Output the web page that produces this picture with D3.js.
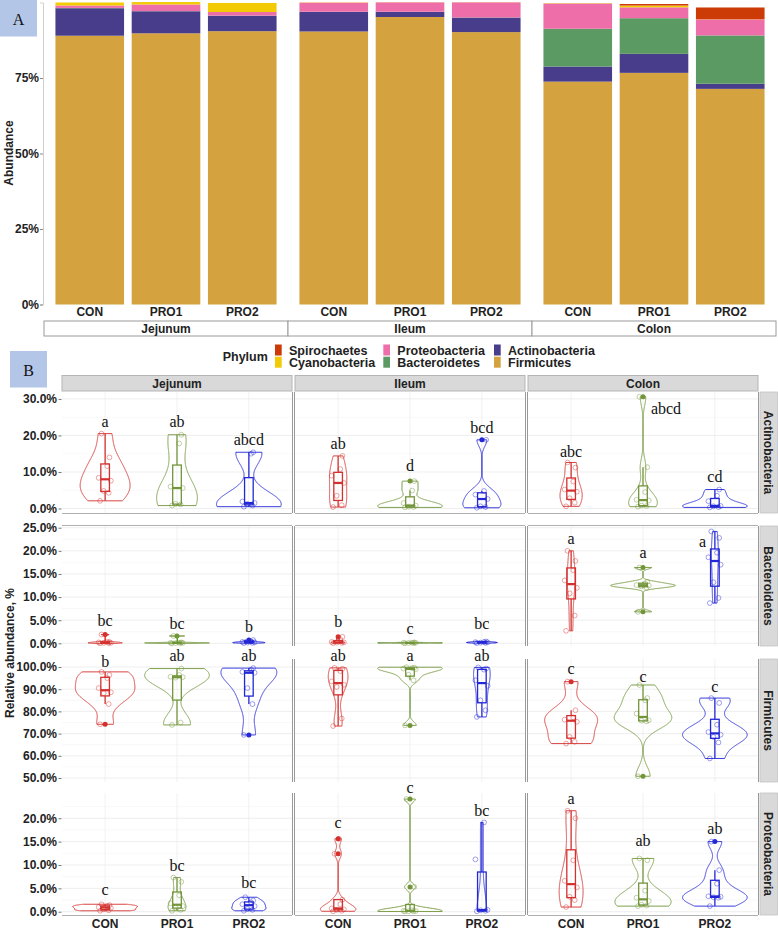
<!DOCTYPE html>
<html>
<head>
<meta charset="utf-8">
<script src="https://cdn.jsdelivr.net/npm/d3@7"></script>
<style>
  body { margin: 0; background: #fff; }
  svg { display: block; }
</style>
</head>
<body>
<div id="chart"></div>
<script>
// ---- categories ----
const regions = ['Jejunum', 'Ileum', 'Colon'];
const groups = ['CON', 'PRO1', 'PRO2'];
const legendPhyla = ['Spirochaetes', 'Cyanobacteria', 'Proteobacteria', 'Bacteroidetes', 'Actinobacteria', 'Firmicutes'];
const stackOrder = ['Firmicutes', 'Actinobacteria', 'Bacteroidetes', 'Proteobacteria', 'Cyanobacteria', 'Spirochaetes'];

// ---- panel A: mean abundance (%) per bar, order Jej CON/PRO1/PRO2, Ile ..., Col ... ----
const firmicutesMean     = [89.0, 89.8, 90.5, 90.4, 95.2, 90.2, 73.8, 76.7, 71.4];
const actinobacteriaMean = [9.1, 7.3, 5.1, 6.5, 1.7, 4.8, 5.0, 6.3, 1.7];
const bacteroidetesMean  = [0.1, 0.05, 0.05, 0.05, 0.05, 0.05, 12.5, 11.8, 16.0];
const proteobacteriaMean = [0.8, 2.2, 1.2, 3.0, 3.1, 5.0, 8.3, 3.6, 5.3];
const cyanobacteriaMean  = [1.0, 0.8, 3.0, 0.1, 0.05, 0.05, 0.1, 0.6, 0.05];
const spirochaetesMean   = [0, 0, 0, 0, 0, 0, 0.05, 0.5, 3.9];
const abundanceTicks = [0, 25, 50, 75];

// ---- panel B: per-sample relative abundance (%), [region][group] ----
const actinobacteriaSamples = [
  [[2.1, 4.3, 4.8, 7.6, 8.4, 11.6, 14.0, 20.5], [0.8, 1.1, 1.3, 5.6, 6.0, 17.8, 20.2], [0.5, 0.8, 1.2, 1.5, 1.9, 15.0, 15.4]],
  [[0.4, 0.9, 3.5, 7.0, 9.0, 10.8, 14.4], [0.3, 0.4, 0.5, 0.8, 1.5, 4.9, 7.5], [0.2, 0.4, 0.6, 2.6, 3.8, 4.8, 18.8]],
  [[0.6, 1.6, 2.8, 4.6, 5.2, 7.4, 11.2, 12.6], [0.5, 0.7, 0.8, 2.2, 2.4, 4.5, 11.3, 30.6], [0.3, 0.4, 0.6, 0.7, 2.0, 3.5, 5.2]]
];
const bacteroidetesSamples = [
  [[0.0, 0.05, 0.1, 0.1, 0.2, 0.3, 0.3, 1.9], [0.0, 0.05, 0.05, 0.1, 0.1, 0.15, 0.2, 1.6], [0.05, 0.1, 0.15, 0.2, 0.3, 0.4, 0.7]],
  [[0.05, 0.1, 0.15, 0.2, 0.3, 0.9, 1.4], [0.02, 0.05, 0.08, 0.1, 0.12, 0.15, 0.2], [0.05, 0.1, 0.15, 0.2, 0.25, 0.3, 0.4]],
  [[2.7, 6.0, 10.8, 12.0, 13.6, 15.8, 17.8, 20.0], [6.8, 12.0, 12.3, 12.5, 12.6, 12.9, 13.3, 16.4], [8.7, 9.8, 13.2, 17.0, 18.6, 19.6, 22.8, 24.2]]
];
const firmicutesSamples = [
  [[74.2, 83.3, 88.2, 88.6, 90.5, 95.0, 96.4, 97.8], [73.9, 75.0, 95.2, 95.4, 95.6, 96.4, 99.3], [69.4, 83.3, 90.5, 97.4, 97.8, 98.8, 99.5]],
  [[73.4, 76.8, 91.0, 92.0, 93.5, 98.2, 99.2, 99.6], [73.7, 94.0, 96.5, 99.0, 99.3, 99.5, 99.7, 99.9], [77.5, 80.5, 85.0, 91.5, 94.0, 98.8, 99.3, 99.8]],
  [[65.5, 66.3, 68.5, 75.3, 76.3, 77.3, 80.5, 93.4], [50.8, 75.5, 75.8, 76.0, 79.0, 85.0, 86.0, 91.9], [58.8, 66.0, 68.5, 69.5, 70.7, 74.0, 83.8, 86.0]]
];
const proteobacteriaSamples = [
  [[0.2, 0.3, 0.5, 0.8, 1.0, 1.2, 1.4, 1.6], [0.2, 0.4, 0.9, 1.2, 1.8, 3.5, 6.4, 7.3], [0.2, 0.4, 0.6, 1.2, 1.6, 2.0, 2.4, 3.1]],
  [[0.1, 0.2, 0.4, 0.5, 0.7, 1.6, 2.6, 12.4, 15.6], [0.05, 0.1, 0.1, 0.15, 0.2, 0.3, 5.3, 24.1], [0.1, 0.2, 0.3, 0.4, 11.2, 19.1]],
  [[1.0, 2.5, 3.2, 5.2, 6.6, 11.0, 20.0, 21.6], [1.2, 1.3, 1.5, 2.3, 3.0, 4.5, 11.0, 11.4], [1.2, 3.0, 3.1, 3.2, 3.3, 6.0, 8.9, 15.0]]
];

// significance letters and the value (%) at which each sits
const actinobacteriaLetters = [['a', 'ab', 'abcd'], ['ab', 'd', 'bcd'], ['abc', 'abcd', 'cd']];
const actinobacteriaLetterAt = [[22.3, 22.3, 17.4], [16.2, 10.4, 20.6], [14.0, 25.9, 7.3]];
const bacteroidetesLetters = [['bc', 'bc', 'b'], ['b', 'c', 'bc'], ['a', 'a', 'a']];
const bacteroidetesLetterAt = [[3.7, 3.0, 2.5], [3.5, 2.0, 3.0], [21.5, 18.4, 20.8]];
const firmicutesLetters = [['b', 'ab', 'ab'], ['ab', 'a', 'ab'], ['c', 'c', 'c']];
const firmicutesLetterAt = [[100.1, 102.8, 102.8], [102.8, 102.8, 102.8], [96.8, 93.4, 88.9]];
const proteobacteriaLetters = [['c', 'bc', 'bc'], ['c', 'c', 'bc'], ['a', 'ab', 'ab']];
const proteobacteriaLetterAt = [[3.6, 8.8, 5.0], [17.9, 25.5, 20.5], [23.1, 14.1, 16.6]];

const rowNames = ['Actinobacteria', 'Bacteroidetes', 'Firmicutes', 'Proteobacteria'];
const rowSamples = [actinobacteriaSamples, bacteroidetesSamples, firmicutesSamples, proteobacteriaSamples];
const rowLetters = [actinobacteriaLetters, bacteroidetesLetters, firmicutesLetters, proteobacteriaLetters];
const rowLetterAt = [actinobacteriaLetterAt, bacteroidetesLetterAt, firmicutesLetterAt, proteobacteriaLetterAt];
const rowTicks = [[0, 10, 20, 30], [0, 5, 10, 15, 20, 25], [50, 60, 70, 80, 90, 100], [0, 5, 10, 15, 20]];
const rowDomains = [[-1.23, 31.9], [-0.58, 25.37], [48.2, 103.6], [-0.7, 25.4]];

// ---- styles / layout ----
const phylumColor = {
  Spirochaetes: '#cc3a06', Cyanobacteria: '#f2cb05', Proteobacteria: '#ee6ea9',
  Bacteroidetes: '#5b9a62', Actinobacteria: '#483d8b', Firmicutes: '#d4a33f'
};
const groupColor = ['#d4302e', '#72953a', '#2327d6'];
const sans = "'Liberation Sans', Arial, sans-serif";
const serif = "'Liberation Serif', 'Times New Roman', serif";
const jitterPattern = [-0.07, 0.05, -0.02, 0.08, -0.09, 0.03, 0.06, -0.05, 0.01, -0.04];
// labels nudged sideways in the original figure
const letterNudge = { 'Actinobacteria|Colon|PRO1': 0.32, 'Bacteroidetes|Colon|PRO2': -0.17 };

const svg = d3.select('#chart').append('svg')
  .attr('width', 778).attr('height', 932)
  .attr('font-family', sans);

// ================= Panel A =================
const aCols = [[44, 288], [288, 532], [532, 776]];
const yA = d3.scaleLinear().domain([0, 100]).range([304.5, 2.5]);

const means = {
  Firmicutes: firmicutesMean, Actinobacteria: actinobacteriaMean, Bacteroidetes: bacteroidetesMean,
  Proteobacteria: proteobacteriaMean, Cyanobacteria: cyanobacteriaMean, Spirochaetes: spirochaetesMean
};
const barRows = d3.range(9).map(i => {
  const row = { region: regions[Math.floor(i / 3)], group: groups[i % 3] };
  stackOrder.forEach(p => { row[p] = means[p][i]; });
  return row;
});
const series = d3.stack().keys(stackOrder)(barRows);

const gA = svg.append('g');
regions.forEach((region, ci) => {
  const x = d3.scalePoint().domain(groups).range(aCols[ci]).padding(0.6);
  const bw = x.step() * 0.9;
  series.forEach(s => {
    gA.append('g').attr('fill', phylumColor[s.key])
      .selectAll('rect')
      .data(s.filter(d => d.data.region === region))
      .join('rect')
      .attr('x', d => x(d.data.group) - bw / 2)
      .attr('width', bw)
      .attr('y', d => yA(d[1]))
      .attr('height', d => Math.max(0, yA(d[0]) - yA(d[1])));
  });
  gA.append('g').selectAll('text').data(groups).join('text')
    .attr('x', d => x(d)).attr('y', 316)
    .attr('text-anchor', 'middle').attr('font-size', 12).attr('font-weight', 'bold').attr('fill', '#222')
    .text(d => d);
  // facet strip below
  gA.append('rect').attr('x', aCols[ci][0]).attr('y', 321).attr('width', aCols[ci][1] - aCols[ci][0]).attr('height', 15)
    .attr('fill', '#fff').attr('stroke', '#9a9a9a').attr('stroke-width', 1);
  gA.append('text').attr('x', (aCols[ci][0] + aCols[ci][1]) / 2).attr('y', 332.6)
    .attr('text-anchor', 'middle').attr('font-size', 12).attr('font-weight', 'bold').attr('fill', '#222')
    .text(region);
});

const axA = gA.append('g').attr('transform', 'translate(43,0)')
  .call(d3.axisLeft(yA).tickValues(abundanceTicks).tickFormat(d => d + '%').tickSize(3).tickPadding(1));
axA.select('.domain').attr('stroke', '#d0d0d0');
axA.selectAll('.tick line').attr('stroke', '#888');
axA.selectAll('.tick text').attr('font-size', 12).attr('font-weight', 'bold').attr('fill', '#222').attr('font-family', sans);

gA.append('text').attr('transform', 'translate(8.5,153) rotate(-90)').attr('dy', '0.35em')
  .attr('text-anchor', 'middle').attr('font-size', 12).attr('font-weight', 'bold').attr('fill', '#222')
  .text('Abundance');

// legend
const gL = svg.append('g');
gL.append('text').attr('x', 222.7).attr('y', 361).attr('font-size', 12.5).attr('font-weight', 'bold').attr('fill', '#222').text('Phylum');
const legCols = [275, 383.3, 494];
legendPhyla.forEach((p, i) => {
  const c = Math.floor(i / 2), r = i % 2;
  gL.append('rect').attr('x', legCols[c]).attr('y', 344.5 + r * 12.2).attr('width', 6.7).attr('height', 11)
    .attr('fill', phylumColor[p]);
  gL.append('text').attr('x', legCols[c] + 14).attr('y', 354.5 + r * 12.2)
    .attr('font-size', 12.5).attr('font-weight', 'bold').attr('fill', '#222').text(p);
});

// panel tags
[['A', 0, 0], ['B', 10, 351]].forEach(([t, x0, y0]) => {
  svg.append('rect').attr('x', x0).attr('y', y0).attr('width', 37).attr('height', 36.5).attr('fill', '#b4c6e7');
  svg.append('text').attr('x', x0 + 18.5).attr('y', y0 + 24.5).attr('text-anchor', 'middle')
    .attr('font-family', serif).attr('font-size', 16).attr('fill', '#111').text(t);
});

// ================= Panel B =================
const colX = [[62, 292], [295, 525], [528, 758]];
const rowY = [[392, 513], [526, 646], [659, 782], [793, 915]];

function nrd0(sorted) {
  const n = sorted.length;
  const sd = d3.deviation(sorted);
  const iqr = d3.quantileSorted(sorted, 0.75) - d3.quantileSorted(sorted, 0.25);
  let lo = Math.min(sd, iqr / 1.34);
  if (!(lo > 0)) lo = sd || Math.abs(sorted[0]) || 1;
  return 0.9 * lo * Math.pow(n, -0.2);
}

function kde(sorted, bw) {
  const n = sorted.length, lo = sorted[0], hi = sorted[n - 1];
  return d3.range(512).map(k => {
    const v = lo + (hi - lo) * k / 511;
    const d = d3.sum(sorted, s => Math.exp(-0.5 * ((v - s) / bw) ** 2)) / (n * bw * Math.sqrt(2 * Math.PI));
    return { v, d };
  });
}

function boxStats(sorted) {
  const q1 = d3.quantileSorted(sorted, 0.25), med = d3.quantileSorted(sorted, 0.5), q3 = d3.quantileSorted(sorted, 0.75);
  const iqr = q3 - q1;
  const inside = sorted.filter(v => v >= q1 - 1.5 * iqr && v <= q3 + 1.5 * iqr);
  return { q1, med, q3, lo: d3.min(inside), hi: d3.max(inside), out: sorted.filter(v => v < q1 - 1.5 * iqr || v > q3 + 1.5 * iqr) };
}

const gB = svg.append('g');

rowNames.forEach((phylum, ri) => {
  const [ry0, ry1] = rowY[ri];
  const y = d3.scaleLinear().domain(rowDomains[ri]).range([ry1, ry0]);
  const ticks = rowTicks[ri];
  const tStep = ticks[1] - ticks[0];
  const minor = [ticks[0] - tStep / 2, ...ticks.map(t => t + tStep / 2)]
    .filter(v => v > rowDomains[ri][0] && v < rowDomains[ri][1]);

  regions.forEach((region, ci) => {
    const [cx0, cx1] = colX[ci];
    const x = d3.scalePoint().domain(groups).range([cx0, cx1]).padding(0.6);
    const step = x.step();
    const g = gB.append('g');

    // grid
    g.append('g').selectAll('line').data(minor).join('line')
      .attr('x1', cx0).attr('x2', cx1).attr('y1', d => y(d)).attr('y2', d => y(d))
      .attr('stroke', '#f3f3f3').attr('stroke-width', 0.6);
    g.append('g').selectAll('line').data(ticks).join('line')
      .attr('x1', cx0).attr('x2', cx1).attr('y1', d => y(d)).attr('y2', d => y(d))
      .attr('stroke', '#e6e6e6').attr('stroke-width', 0.7);
    g.append('g').selectAll('line').data(groups).join('line')
      .attr('x1', d => x(d)).attr('x2', d => x(d)).attr('y1', ry0).attr('y2', ry1)
      .attr('stroke', '#ebebeb').attr('stroke-width', 0.7);

    const stats = groups.map((grp, gi) => {
      const sorted = rowSamples[ri][ci][gi].slice().sort(d3.ascending);
      return { grp, gi, sorted, dens: kde(sorted, nrd0(sorted)), box: boxStats(sorted) };
    });
    const maxD = d3.max(stats, s => d3.max(s.dens, p => p.d));

    stats.forEach(s => {
      const cx = x(s.grp);
      const col = groupColor[s.gi];
      const half = 0.45 * step;
      const area = d3.area()
        .y(p => y(p.v))
        .x0(p => cx - half * p.d / maxD)
        .x1(p => cx + half * p.d / maxD);
      g.append('path').attr('d', area(s.dens))
        .attr('fill', 'none').attr('stroke', col).attr('stroke-width', 0.9);

      const b = s.box, bw = 0.12 * step;
      g.append('line').attr('x1', cx).attr('x2', cx).attr('y1', y(b.q3)).attr('y2', y(b.hi))
        .attr('stroke', col).attr('stroke-width', 1.3);
      g.append('line').attr('x1', cx).attr('x2', cx).attr('y1', y(b.q1)).attr('y2', y(b.lo))
        .attr('stroke', col).attr('stroke-width', 1.3);
      g.append('rect').attr('x', cx - bw / 2).attr('width', bw)
        .attr('y', y(b.q3)).attr('height', Math.max(0.5, y(b.q1) - y(b.q3)))
        .attr('fill', 'none').attr('stroke', col).attr('stroke-width', 1.3);
      g.append('line').attr('x1', cx - bw / 2).attr('x2', cx + bw / 2).attr('y1', y(b.med)).attr('y2', y(b.med))
        .attr('stroke', col).attr('stroke-width', 2.2);
      g.append('g').selectAll('circle').data(b.out).join('circle')
        .attr('cx', cx).attr('cy', d => y(d)).attr('r', 2.5).attr('fill', col);

      g.append('g').selectAll('circle').data(s.sorted).join('circle')
        .attr('cx', (d, i) => cx + jitterPattern[i % jitterPattern.length] * step)
        .attr('cy', d => y(d)).attr('r', 2.4)
        .attr('fill', 'none').attr('stroke', col).attr('stroke-opacity', 0.55).attr('stroke-width', 0.8);

      // significance letter
      const nudge = letterNudge[`${phylum}|${region}|${s.grp}`] || 0;
      g.append('text').attr('x', cx + nudge * step).attr('y', y(rowLetterAt[ri][ci][s.gi]))
        .attr('text-anchor', 'middle').attr('font-family', serif).attr('font-size', 16).attr('fill', '#111')
        .text(rowLetters[ri][ci][s.gi]);
    });

    // panel frame pieces
    g.append('line').attr('x1', cx1 + 0.5).attr('x2', cx1 + 0.5).attr('y1', ry0).attr('y2', ry1)
      .attr('stroke', '#999').attr('stroke-width', 1);
    if (ci > 0) {
      g.append('line').attr('x1', cx0 - 0.5).attr('x2', cx0 - 0.5).attr('y1', ry0).attr('y2', ry1)
        .attr('stroke', '#999').attr('stroke-width', 1);
    }
    if (ri === 0 || ri === 3) {
      g.append('line').attr('x1', cx0).attr('x2', cx1).attr('y1', ry1 + 0.5).attr('y2', ry1 + 0.5)
        .attr('stroke', '#b0b0b0').attr('stroke-width', 1);
    }
    if (ri === 1) {
      g.append('line').attr('x1', cx0).attr('x2', cx1).attr('y1', ry0 - 0.5).attr('y2', ry0 - 0.5)
        .attr('stroke', '#b0b0b0').attr('stroke-width', 1);
    }

    if (ci === 0) {
      const ax = g.append('g').attr('transform', `translate(${cx0 - 0.5},0)`)
        .call(d3.axisLeft(y).tickValues(ticks).tickFormat(d => d3.format('.1f')(d) + '%').tickSize(3).tickPadding(1.5));
      ax.select('.domain').remove();
      ax.selectAll('.tick line').attr('stroke', '#777');
      ax.selectAll('.tick text').attr('font-size', 12).attr('font-weight', 'bold').attr('fill', '#222').attr('font-family', sans);
    }
    if (ri === 0) {
      g.append('rect').attr('x', cx0).attr('y', 375.5).attr('width', cx1 - cx0).attr('height', 15.5)
        .attr('fill', '#d9d9d9').attr('stroke', '#b5b5b5').attr('stroke-width', 1);
      g.append('text').attr('x', (cx0 + cx1) / 2).attr('y', 388)
        .attr('text-anchor', 'middle').attr('font-size', 12).attr('font-weight', 'bold').attr('fill', '#222')
        .text(region);
    }
    if (ri === 3) {
      g.append('g').selectAll('text').data(groups).join('text')
        .attr('x', d => x(d)).attr('y', 927.5)
        .attr('text-anchor', 'middle').attr('font-size', 12).attr('font-weight', 'bold').attr('fill', '#222')
        .text(d => d);
    }
  });

  // right strip
  gB.append('rect').attr('x', 760).attr('y', ry0).attr('width', 17.5).attr('height', ry1 - ry0)
    .attr('fill', '#d9d9d9').attr('stroke', '#c4c4c4').attr('stroke-width', 0.8);
  gB.append('text').attr('transform', `translate(768.7,${(ry0 + ry1) / 2}) rotate(90)`).attr('dy', '0.35em')
    .attr('text-anchor', 'middle').attr('font-size', 12).attr('font-weight', 'bold').attr('fill', '#222')
    .text(phylum);
});

gB.append('text').attr('transform', 'translate(10,653) rotate(-90)').attr('dy', '0.35em')
  .attr('text-anchor', 'middle').attr('font-size', 12).attr('font-weight', 'bold').attr('fill', '#222')
  .text('Relative abundance, %');
</script>
</body>
</html>
